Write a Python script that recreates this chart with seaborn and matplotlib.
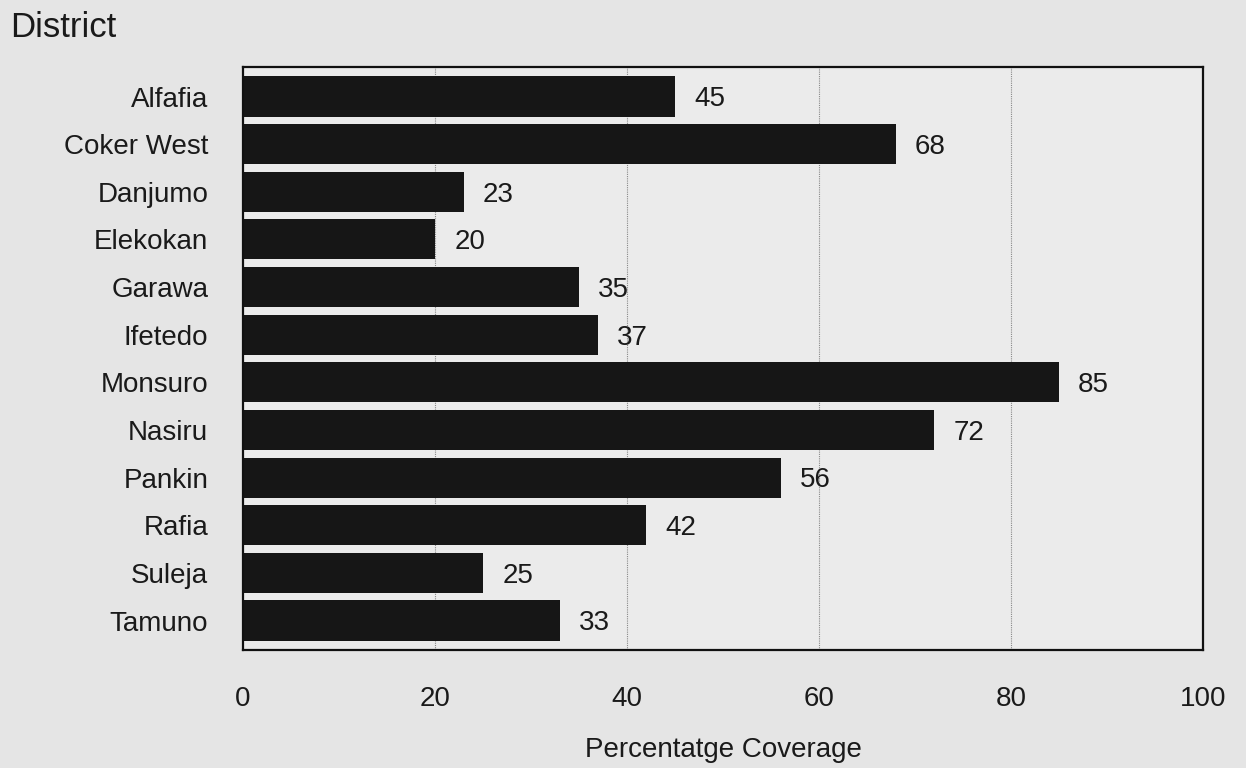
import pandas as pd
import seaborn as sns
import matplotlib
import matplotlib.pyplot as plt
matplotlib.use('Agg')

sns.set_style("white")
plt.rcParams['font.family'] = ['Liberation Sans', 'DejaVu Sans']

# data
districts = ['Alfafia', 'Coker West', 'Danjumo', 'Elekokan', 'Garawa', 'Ifetedo',
             'Monsuro', 'Nasiru', 'Pankin', 'Rafia', 'Suleja', 'Tamuno']
coverage = [45, 68, 23, 20, 35, 37, 85, 72, 56, 42, 25, 33]
x_ticks = [0, 20, 40, 60, 80, 100]

df = pd.DataFrame({'district': districts, 'coverage': coverage})

fig = plt.figure(figsize=(12.46, 7.68), dpi=100, facecolor='#e5e5e5')
ax = fig.add_axes([0.195, 0.1536, 0.7705, 0.7592])
ax.set_facecolor('#ebebeb')

sns.barplot(data=df, x='coverage', y='district', orient='h', color='#161616',
            saturation=1, width=0.84, linewidth=0, ax=ax)

for i, v in enumerate(coverage):
    ax.text(v + 2.0, i + 0.06, str(v), va='center', ha='left', fontsize=20, color='#1a1a1a')

ax.set_xlim(0, 100)
ax.set_ylim(11.62, -0.62)
ax.set_xticks(x_ticks)
ax.set_xticklabels([str(t) for t in x_ticks])
ax.tick_params(axis='x', length=0, pad=26, labelsize=20, colors='#1a1a1a')
ax.tick_params(axis='y', length=0, pad=25, labelsize=20, colors='#1a1a1a')

for t in [20, 40, 60, 80]:
    ax.axvline(t, color='#888888', lw=0.8, ls=(0, (1, 1)), zorder=0)

for s in ax.spines.values():
    s.set_visible(True)
    s.set_color('#111111')
    s.set_linewidth(1.6)

ax.set_ylabel('')
ax.set_xlabel('Percentatge Coverage', fontsize=20, color='#1a1a1a', labelpad=18)
fig.text(0.008, 0.964, 'District', fontsize=25, va='center', ha='left', color='#1a1a1a')

fig.savefig('out.png', dpi=100, facecolor=fig.get_facecolor())
